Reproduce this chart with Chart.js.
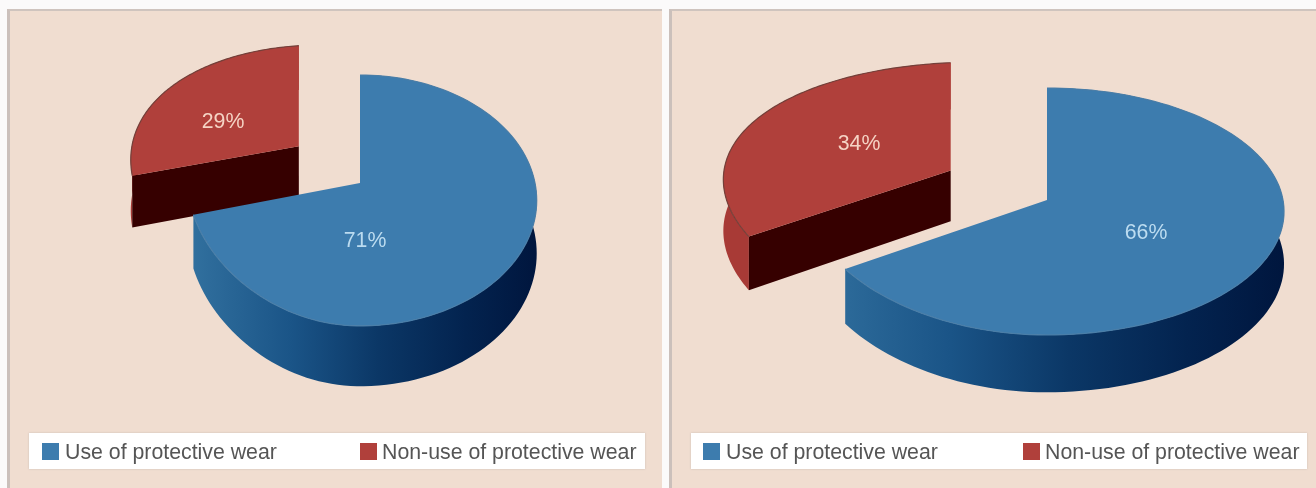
<!DOCTYPE html>
<html>
<head>
<meta charset="utf-8">
<title>Protective wear</title>
<script src="https://cdn.jsdelivr.net/npm/chart.js@4/dist/chart.umd.min.js"></script>
<style>
    html, body { margin: 0; padding: 0; background: #fbfafa; }
    body { position: relative; width: 1316px; height: 488px; overflow: hidden; font-family: "Liberation Sans", Arial, sans-serif; }
    .panel { position: absolute; top: 9px; height: 479px; background: #f0ddd0; border-top: 2px solid #cfc4be; border-left: 3px solid #cbc0bb; box-sizing: border-box; }
    canvas { position: absolute; top: 0; filter: blur(0.5px); }
    .legend { position: absolute; top: 433px; height: 36px; background: #fff; box-shadow: 0 0 2px #c9bdb5; filter: blur(0.5px); }
    .legend span { position: absolute; top: 7px; font-size: 21.3px; line-height: 24px; color: #555; white-space: nowrap; }
    .legend i { position: absolute; top: 10px; width: 17px; height: 17px; }
</style>
</head>
<body>
<div class="panel" style="left:7px;width:655px"></div>
<div class="panel" style="left:669px;width:647px"></div>
<canvas id="pieLeft" width="664" height="488" style="left:0"></canvas>
<canvas id="pieRight" width="652" height="488" style="left:664px"></canvas>
<div class="legend" id="legendLeft" style="left:29px;width:616px"></div>
<div class="legend" id="legendRight" style="left:691px;width:616px"></div>

<script>
const categories = ['Use of protective wear', 'Non-use of protective wear'];
const valuesLeft = [71, 29];
const valuesRight = [66, 34];
const explodeLeft = [0, 45];   // percent of the radius
const explodeRight = [0, 46];

const colors = {
    top: ['#3d7cae', '#b0403b'],
    edge: ['#4a7ea8', '#74403a'],
    wallRed: '#a83a36',
    faceRed: '#360000',
    labels: ['#bcdcf0', '#f5d3c4']
};

// Projection of the tilted pie: apex position, half widths, vertical scale, perspective, wall height
const viewLeft = {
    cx: 360, cy: 183, fl: 172, fr: 175, g: 123, p: 0.139, h: 52, lift: 4,
    labelAt: [[365, 241], [223, 122]],
    legendX: [[13, 36], [331, 353]]
};
const viewRight = {
    cx: 383, cy: 200, fl: 239, fr: 236, g: 122.4, p: 0.093, h: 52, lift: 3,
    labelAt: [[482, 233], [195, 144]],
    legendX: [[12, 35], [332, 354]]
};

// how much the rim of the exploded slice is pulled in at its middle
const rimFlatten = 0.07;

function project(view, u, v, z, lift) {
    const w = 1 / (1 - view.p * v);
    return {
        x: view.cx + (u < 0 ? view.fl * u : view.fr * u * w),
        y: view.cy + view.g * v * w + z * view.h * w - lift
    };
}

// Points along the rim of a slice, ox/oy being the explode shift
function rimPoints(view, arc, ox, oy, z, flat, lift) {
    const pts = [];
    const steps = 120;
    for (let i = 0; i <= steps; i++) {
        const t = i / steps;
        const a = arc.startAngle + (arc.endAngle - arc.startAngle) * t;
        const r = 1 - flat * Math.sin(Math.PI * t);
        pts.push(project(view, ox + r * Math.cos(a), oy + r * Math.sin(a), z, lift));
    }
    return pts;
}

function tracePoly(ctx, pts) {
    ctx.beginPath();
    pts.forEach((pt, i) => i ? ctx.lineTo(pt.x, pt.y) : ctx.moveTo(pt.x, pt.y));
}

const pie3d = {
    id: 'pie3d',
    beforeDatasetsDraw(chart, args, opts) {
        const view = opts.view;
        const ctx = chart.ctx;
        const arcs = chart.getDatasetMeta(0).data;
        ctx.save();
        // exploded slice goes behind the big one
        for (let i = arcs.length - 1; i >= 0; i--) {
            const arc = arcs[i];
            const mid = (arc.startAngle + arc.endAngle) / 2;
            const d = arc.options.offset / 100;
            const ox = Math.cos(mid) * d;
            const oy = Math.sin(mid) * d;
            const flat = d > 0 ? rimFlatten : 0;
            const lift = d > 0 ? view.lift : 0;
            const top = rimPoints(view, arc, ox, oy, 0, flat, lift);
            const bottom = rimPoints(view, arc, ox, oy, 1, flat, lift);
            const apex = project(view, ox, oy, 0, lift);
            const apexLow = project(view, ox, oy, 1, lift);

            // outer wall
            tracePoly(ctx, top.concat(bottom.slice().reverse()));
            ctx.closePath();
            if (i === 0) {
                const grad = ctx.createLinearGradient(view.cx - view.fl, 0, view.cx + view.fr, 0);
                grad.addColorStop(0, '#32719f');
                grad.addColorStop(0.3, '#1a5487');
                grad.addColorStop(0.55, '#0b3766');
                grad.addColorStop(0.8, '#03234f');
                grad.addColorStop(1, '#00163e');
                ctx.fillStyle = grad;
            } else {
                ctx.fillStyle = colors.wallRed;
            }
            ctx.fill();

            // cut face, only the red one shows
            if (i === 1) {
                tracePoly(ctx, [apex, top[0], bottom[0], apexLow]);
                ctx.closePath();
                ctx.fillStyle = colors.faceRed;
                ctx.fill();
            }

            // top face
            tracePoly(ctx, [apex].concat(top));
            ctx.closePath();
            ctx.fillStyle = colors.top[i];
            ctx.fill();
            tracePoly(ctx, top);
            ctx.strokeStyle = colors.edge[i];
            ctx.lineWidth = 1.2;
            ctx.stroke();
        }
        ctx.restore();
        return false;
    },
    afterDraw(chart, args, opts) {
        const ctx = chart.ctx;
        const values = chart.data.datasets[0].data;
        ctx.save();
        ctx.font = '21.3px "Liberation Sans", Arial, sans-serif';
        ctx.textAlign = 'center';
        ctx.textBaseline = 'middle';
        values.forEach((value, i) => {
            ctx.fillStyle = colors.labels[i];
            ctx.fillText(value + '%', opts.view.labelAt[i][0], opts.view.labelAt[i][1]);
        });
        ctx.restore();
    }
};

function createPie(canvasId, legendId, values, explode, view) {
    const chart = new Chart(document.getElementById(canvasId), {
        type: 'pie',
        data: {
            labels: categories,
            datasets: [{
                data: values,
                backgroundColor: colors.top,
                borderWidth: 0,
                offset: explode
            }]
        },
        options: {
            responsive: false,
            animation: false,
            plugins: {
                legend: { display: false },
                tooltip: { enabled: false },
                pie3d: { view: view }
            }
        },
        plugins: [pie3d]
    });

    // legend strip under the pie
    const box = document.getElementById(legendId);
    chart.data.labels.forEach((label, i) => {
        const swatch = document.createElement('i');
        swatch.style.left = view.legendX[i][0] + 'px';
        swatch.style.background = colors.top[i];
        const text = document.createElement('span');
        text.style.left = view.legendX[i][1] + 'px';
        text.textContent = label;
        box.appendChild(swatch);
        box.appendChild(text);
    });
    return chart;
}

createPie('pieLeft', 'legendLeft', valuesLeft, explodeLeft, viewLeft);
createPie('pieRight', 'legendRight', valuesRight, explodeRight, viewRight);
</script>
</body>
</html>
